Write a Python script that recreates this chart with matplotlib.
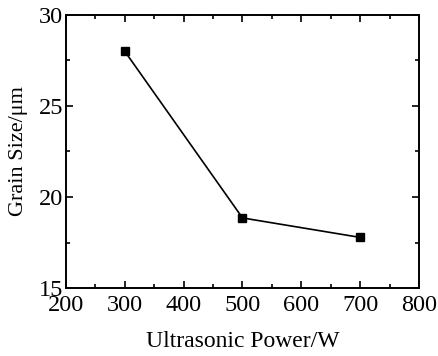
import matplotlib
matplotlib.use('Agg')
import matplotlib.pyplot as plt
from matplotlib.ticker import MultipleLocator

power = [300, 500, 700]
grain_size = [28.0, 18.85, 17.78]

plt.rcParams['font.family'] = ['Liberation Serif', 'DejaVu Serif']

fig = plt.figure(figsize=(4.38, 3.56), dpi=100)
ax = fig.add_axes([0.1507, 0.191, 0.8059, 0.7669])

ax.plot(power, grain_size, color='black', linewidth=1.2, marker='s', markersize=6)

ax.set_xlim(200, 800)
ax.set_ylim(15, 30)
ax.xaxis.set_major_locator(MultipleLocator(100))
ax.xaxis.set_minor_locator(MultipleLocator(50))
ax.yaxis.set_major_locator(MultipleLocator(5))
ax.yaxis.set_minor_locator(MultipleLocator(2.5))
ax.tick_params(which='both', direction='in', top=True, right=True, labeltop=False, labelright=False)
ax.tick_params(which='major', length=5, width=1.2, labelsize=17.5)
ax.tick_params(axis='x', which='major', pad=5)
ax.tick_params(axis='y', which='major', pad=2)
ax.tick_params(which='minor', length=3, width=1.2)
for s in ax.spines.values():
    s.set_linewidth(1.4)

ax.set_xlabel('Ultrasonic Power/W', fontsize=17, labelpad=11)
ax.set_ylabel('Grain Size/μm', fontsize=16, labelpad=8)

fig.savefig('out.png', dpi=100)
